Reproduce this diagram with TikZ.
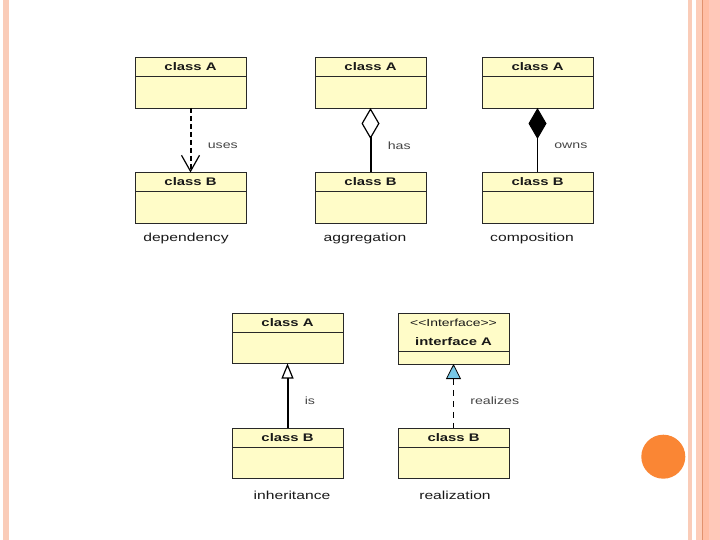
\documentclass[tikz,border=0pt]{standalone}
\usepackage{fontspec}
\setmainfont{Liberation Sans}[FakeStretch=1.35]
\usetikzlibrary{arrows.meta}
\definecolor{boxfill}{RGB}{255,252,200}
\definecolor{boxline}{RGB}{40,40,40}
\definecolor{textdark}{RGB}{25,25,25}
\definecolor{labelgray}{RGB}{70,70,70}
\definecolor{stripe}{RGB}{250,204,184}
\definecolor{bandA}{RGB}{253,205,185}
\definecolor{bandline}{RGB}{226,146,110}
\definecolor{bandB}{RGB}{255,190,165}
\definecolor{bandC}{RGB}{255,200,185}
\definecolor{dotorange}{RGB}{250,134,52}
\definecolor{triblue}{RGB}{120,200,230}
\begin{document}
\begin{tikzpicture}[x=1pt,y=-1pt,
  hdr/.style={draw=boxline, fill=boxfill, line width=0.8pt, minimum width=111pt, minimum height=19pt,
    inner sep=0pt, outer sep=0pt, anchor=north west, text=textdark, font=\bfseries\fontsize{11}{12}\selectfont},
  bdy/.style={draw=boxline, fill=boxfill, line width=0.8pt, minimum width=111pt, minimum height=31.5pt,
    inner sep=0pt, outer sep=0pt, anchor=north},
  lbl/.style={anchor=west, xshift=13pt, text=labelgray, font=\fontsize{10.5}{12}\selectfont},
  capt/.style={text=textdark, font=\fontsize{11.6}{13}\selectfont},
  thick2/.style={draw=black, line width=2pt},
  thin1/.style={draw=black, line width=1pt}]
\useasboundingbox (0,0) rectangle (720,540);
\fill[white] (0,0) rectangle (720,540);
% slide decorations
\fill[stripe] (3,0) rectangle (9,540);
\fill[stripe] (688,0) rectangle (692,540);
\fill[bandA] (696,0) rectangle (702,540);
\fill[bandline] (702,0) rectangle (703,540);
\fill[bandB] (703,0) rectangle (709,540);
\fill[bandC] (709,0) rectangle (720,540);
\fill[dotorange] (663.3,456.7) circle (22);
% dependency
\node[hdr] (dAh) at (135,57.5) {class A};
\node[bdy] (dAb) at (dAh.south) {};
\node[hdr] (dBh) at (135,172.5) {class B};
\node[bdy] (dBb) at (dBh.south) {};
\node[capt] (dcap) at (186,239) {dependency};
% aggregation
\node[hdr] (aAh) at (315,57.5) {class A};
\node[bdy] (aAb) at (aAh.south) {};
\node[hdr] (aBh) at (315,172.5) {class B};
\node[bdy] (aBb) at (aBh.south) {};
\node[capt] (acap) at (365,239) {aggregation};
% composition
\node[hdr] (cAh) at (482,57.5) {class A};
\node[bdy] (cAb) at (cAh.south) {};
\node[hdr] (cBh) at (482,172.5) {class B};
\node[bdy] (cBb) at (cBh.south) {};
\node[capt] (ccap) at (532,239) {composition};
% inheritance
\node[hdr] (iAh) at (232,313) {class A};
\node[bdy] (iAb) at (iAh.south) {};
\node[hdr] (iBh) at (232,428) {class B};
\node[bdy] (iBb) at (iBh.south) {};
\node[capt] (icap) at (292,495) {inheritance};
% realization
\node[hdr, minimum height=38.5pt, align=center] (rAh) at (398,313)
  {{\mdseries\fontsize{10.3}{11}\selectfont <{}<Interface>{}>}\\[7pt]interface A};
\node[bdy, minimum height=12.5pt] (rAb) at (rAh.south) {};
\node[hdr] (rBh) at (398,428) {class B};
\node[bdy] (rBb) at (rBh.south) {};
\node[capt] (rcap) at (455,495) {realization};
% connectors
\draw[thick2, dash pattern=on 5pt off 3pt,
  -{Straight Barb[length=16pt, width=18pt, line width=1.2pt]}]
  (dAb.south) -- (dBh.north) node[lbl, pos=0.58] {uses};
\draw[thick2, {Diamond[open, length=31pt, width=18pt, line width=1.2pt]}-]
  (aAb.south) -- (aBh.north) node[lbl, pos=0.58] {has};
\draw[thin1, {Diamond[fill=black, length=31pt, width=18pt, line width=1pt]}-]
  (cAb.south) -- (cBh.north) node[lbl, pos=0.58] {owns};
\draw[thick2, {Triangle[open, length=15pt, width=12pt, line width=1.2pt]}-]
  (iAb.south) -- (iBh.north) node[lbl, pos=0.58] {is};
\draw[thin1, dash pattern=on 6pt off 5pt,
  {Triangle[fill=triblue, length=15pt, width=15pt, line width=0.8pt]}-]
  (rAb.south) -- (rBh.north) node[lbl, pos=0.58] {realizes};
\end{tikzpicture}
\end{document}
